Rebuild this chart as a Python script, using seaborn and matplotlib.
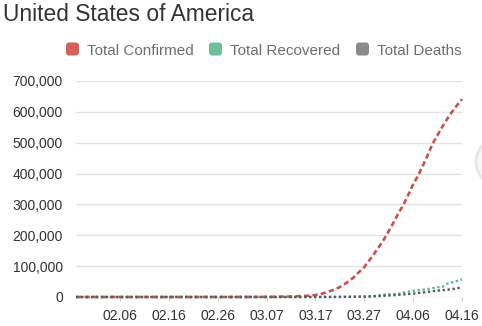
import matplotlib
matplotlib.use("Agg")
import matplotlib.pyplot as plt
import matplotlib.dates as mdates
from matplotlib.patches import FancyBboxPatch, Circle
from matplotlib.transforms import IdentityTransform
from matplotlib.ticker import FuncFormatter
import numpy as np
import pandas as pd
import seaborn as sns

# ---- data: cumulative totals, 2020-01-28 .. 2020-04-16 ----
dates = pd.date_range("2020-01-28", "2020-04-16", freq="D")

confirmed = [
    5, 5, 5, 7,
    8, 8, 11, 11, 11, 12, 12, 12, 12, 12, 13, 13, 14, 15, 15, 15, 15, 15, 15, 15,
    35, 35, 35, 53, 57, 60, 60, 62, 68,
    75, 100, 124, 158, 221, 319, 435, 541, 704, 994, 1301, 1697, 2247, 2943, 3680,
    4663, 6411, 9259, 13789, 19383, 24207, 32000, 42000, 53000, 66000, 82000,
    97000, 118000, 140000, 162000, 186000,
    213000, 242000, 272000, 298000, 331000, 365000, 393000, 426000, 461000,
    497000, 525000, 552000, 578000, 601000, 622000, 641000,
]
recovered = [
    0, 0, 0, 0,
    0, 0, 0, 0, 0, 0, 0, 0, 3, 3, 3, 3, 3, 3, 3, 3, 3, 3, 3, 3, 5, 5, 5, 5, 6, 6, 6, 7, 7,
    7, 7, 7, 7, 7, 7, 8, 8, 8, 8, 8, 12, 12, 12, 12, 17, 17, 106, 106, 147, 171, 178,
    348, 361, 361, 681, 869, 1072, 2612, 5644, 7024,
    8474, 9001, 9707, 14652, 17448, 19581, 21763, 23559, 25410, 28790, 31270,
    32988, 43000, 47763, 52096, 57000,
]
deaths = [0] * 33 + [
    1, 6, 7, 11, 12, 14, 17, 21, 22, 28, 36, 40, 47, 54, 63, 85, 108, 150, 200,
    244, 307, 427, 552, 706, 942, 1209, 1581, 2026, 2467, 2978, 3873,
    4757, 5926, 7087, 8407, 9619, 10783, 12722, 14695, 16478, 18586, 20463,
    22020, 23529, 25832, 28326, 31000,
]

series_names = ["Total Confirmed", "Total Recovered", "Total Deaths"]
line_colors = ["#c9514c", "#5db596", "#555a5c"]
legend_colors = ["#d6605b", "#6dbf99", "#8a8a8a"]
y_ticks = [0, 100000, 200000, 300000, 400000, 500000, 600000, 700000]
x_tick_dates = pd.date_range("2020-02-06", "2020-04-16", freq="10D")
title = "United States of America"

df = pd.DataFrame({
    "date": np.tile(dates, 3),
    "value": confirmed + recovered + deaths,
    "series": np.repeat(series_names, len(dates)),
})

# ---- figure ----
sns.set_theme(style="white")
plt.rcParams["font.family"] = ["Liberation Sans", "DejaVu Sans"]

W, H = 482, 326
fig = plt.figure(figsize=(W / 100, H / 100), dpi=100)
fig.patch.set_facecolor("white")

left, right, top, bottom = 76, 462, 81, 297
ax = fig.add_axes([left / W, 1 - bottom / H, (right - left) / W, (bottom - top) / H])
ax.set_facecolor("white")

palette = dict(zip(series_names, line_colors))
dash_map = {
    "Total Confirmed": (2.0, 1.2),
    "Total Recovered": (1.0, 1.1),
    "Total Deaths": (1.0, 1.1),
}
sns.lineplot(data=df, x="date", y="value", hue="series", style="series",
             palette=palette, dashes=dash_map, linewidth=1.7,
             legend=False, ax=ax)
for ln in ax.lines:
    ln.set_clip_on(False)
    ln.set_dash_capstyle("butt")
ax.lines[0].set_linewidth(1.9)

ax.set_xlim(dates[0], dates[-1])
ax.set_ylim(0, 700000)
ax.set_yticks(y_ticks)
ax.yaxis.set_major_formatter(FuncFormatter(lambda v, p: f"{int(v):,}"))
ax.set_xticks(x_tick_dates)
ax.xaxis.set_major_formatter(mdates.DateFormatter("%m.%d"))
ax.set_xlabel("")
ax.set_ylabel("")

ax.grid(axis="y", color="#e3e3e3", linewidth=1.0)
ax.grid(axis="x", visible=False)
ax.set_axisbelow(True)
for s in ax.spines.values():
    s.set_visible(False)

ax.tick_params(axis="y", length=0, pad=9.5, labelsize=10, labelcolor="#333333")
ax.tick_params(axis="x", length=3, width=0.8, color="#cfcfcf", pad=5.5,
               labelsize=10, labelcolor="#333333", direction="out")
ax.xaxis.set_ticks_position("bottom")

# ---- title ----
fig.text(3 / W, 1 - 21 / H, title, fontsize=16.4, color="#333333",
         ha="left", va="baseline")

# ---- legend ----
ident = IdentityTransform()
legend_items = [(66, 87), (209, 230), (356, 377)]
for (bx, tx), name, col in zip(legend_items, series_names, legend_colors):
    sq = FancyBboxPatch((bx, H - 49 - 6.5), 13, 13,
                        boxstyle="round,pad=0,rounding_size=3",
                        facecolor=col, edgecolor="none", transform=ident)
    fig.patches.append(sq)
    fig.text(tx / W, 1 - 55 / H, name, fontsize=11, color="#6e6e6e",
             ha="left", va="baseline")

# floating round button at the right edge
btn = Circle((500, H - 162), 24, facecolor="#f7f7f7", edgecolor="#e6e6e6",
             linewidth=2, transform=ident)
fig.patches.append(btn)

fig.savefig("out.png", dpi=100, facecolor="white")
